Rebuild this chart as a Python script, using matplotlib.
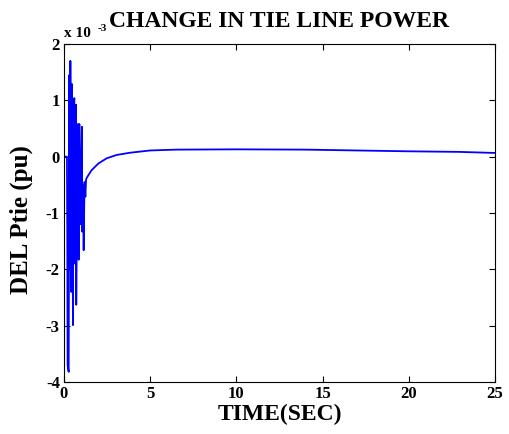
import matplotlib
matplotlib.use("Agg")
import matplotlib.pyplot as plt

# time (s) and DEL Ptie (x 10^-3 pu)
time_s = [0.0, 0.17, 0.19, 0.21, 0.27, 0.31, 0.34, 0.37, 0.42, 0.46, 0.52, 0.55,
          0.60, 0.64, 0.70, 0.71, 0.75, 0.81, 0.85, 0.89, 0.96, 1.04, 1.06, 1.10,
          1.14, 1.19, 1.24, 1.28, 1.31, 1.6, 2.0, 2.47, 3.05, 3.83, 5.0, 6.5,
          10.0, 14.0, 17.0, 20.0, 22.9, 25.0]
del_ptie = [0.0, 0.0, -1.3, -3.7, -3.82, 1.45, -2.0, 1.70, -2.4, 1.29, -2.99, 0.9,
            1.04, -1.9, 0.92, -2.63, -0.47, 0.58, -1.83, 0.58, -1.2, 0.53, -1.33, -0.5,
            -1.66, -0.45, -0.71, -0.41, -0.38, -0.24, -0.12, -0.03, 0.03, 0.07, 0.11, 0.125,
            0.13, 0.125, 0.11, 0.095, 0.085, 0.066]

x_ticks = [0, 5, 10, 15, 20, 25]
y_ticks = [-4, -3, -2, -1, 0, 1, 2]

plt.rcParams['font.family'] = ['Liberation Serif', 'DejaVu Serif']
plt.rcParams['font.weight'] = 'bold'
plt.rcParams['axes.unicode_minus'] = False

fig = plt.figure(figsize=(5.09, 4.34), dpi=100)
ax = fig.add_axes([64/509, 52/434, 431/509, 338/434])
ax.plot(time_s, del_ptie, color='#0000ff', linewidth=1.3)
ax.set_xlim(0, 25)
ax.set_ylim(-4, 2)
ax.set_xticks(x_ticks)
ax.set_yticks(y_ticks)
ax.tick_params(direction='in', top=True, right=True, length=4, width=0.8,
               labelsize=12, pad=3)
for lab in ax.get_xticklabels() + ax.get_yticklabels():
    lab.set_fontweight('bold')
for s in ax.spines.values():
    s.set_linewidth(0.8)

ax.set_xlabel('TIME(SEC)', fontsize=17, fontweight='bold', labelpad=1)
ax.set_ylabel('DEL Ptie (pu)', fontsize=18, fontweight='bold')
ax.yaxis.set_label_coords(-0.072, 0.48)
ax.set_title('CHANGE IN TIE LINE POWER', fontsize=17, fontweight='bold', pad=12)

ax.text(0.0, 1.012, 'x 10', transform=ax.transAxes, fontsize=11,
        fontweight='bold', ha='left', va='bottom')
ax.text(0.077, 1.032, '-3', transform=ax.transAxes, fontsize=8,
        fontweight='bold', ha='left', va='bottom')

fig.savefig('out.png', dpi=100)
